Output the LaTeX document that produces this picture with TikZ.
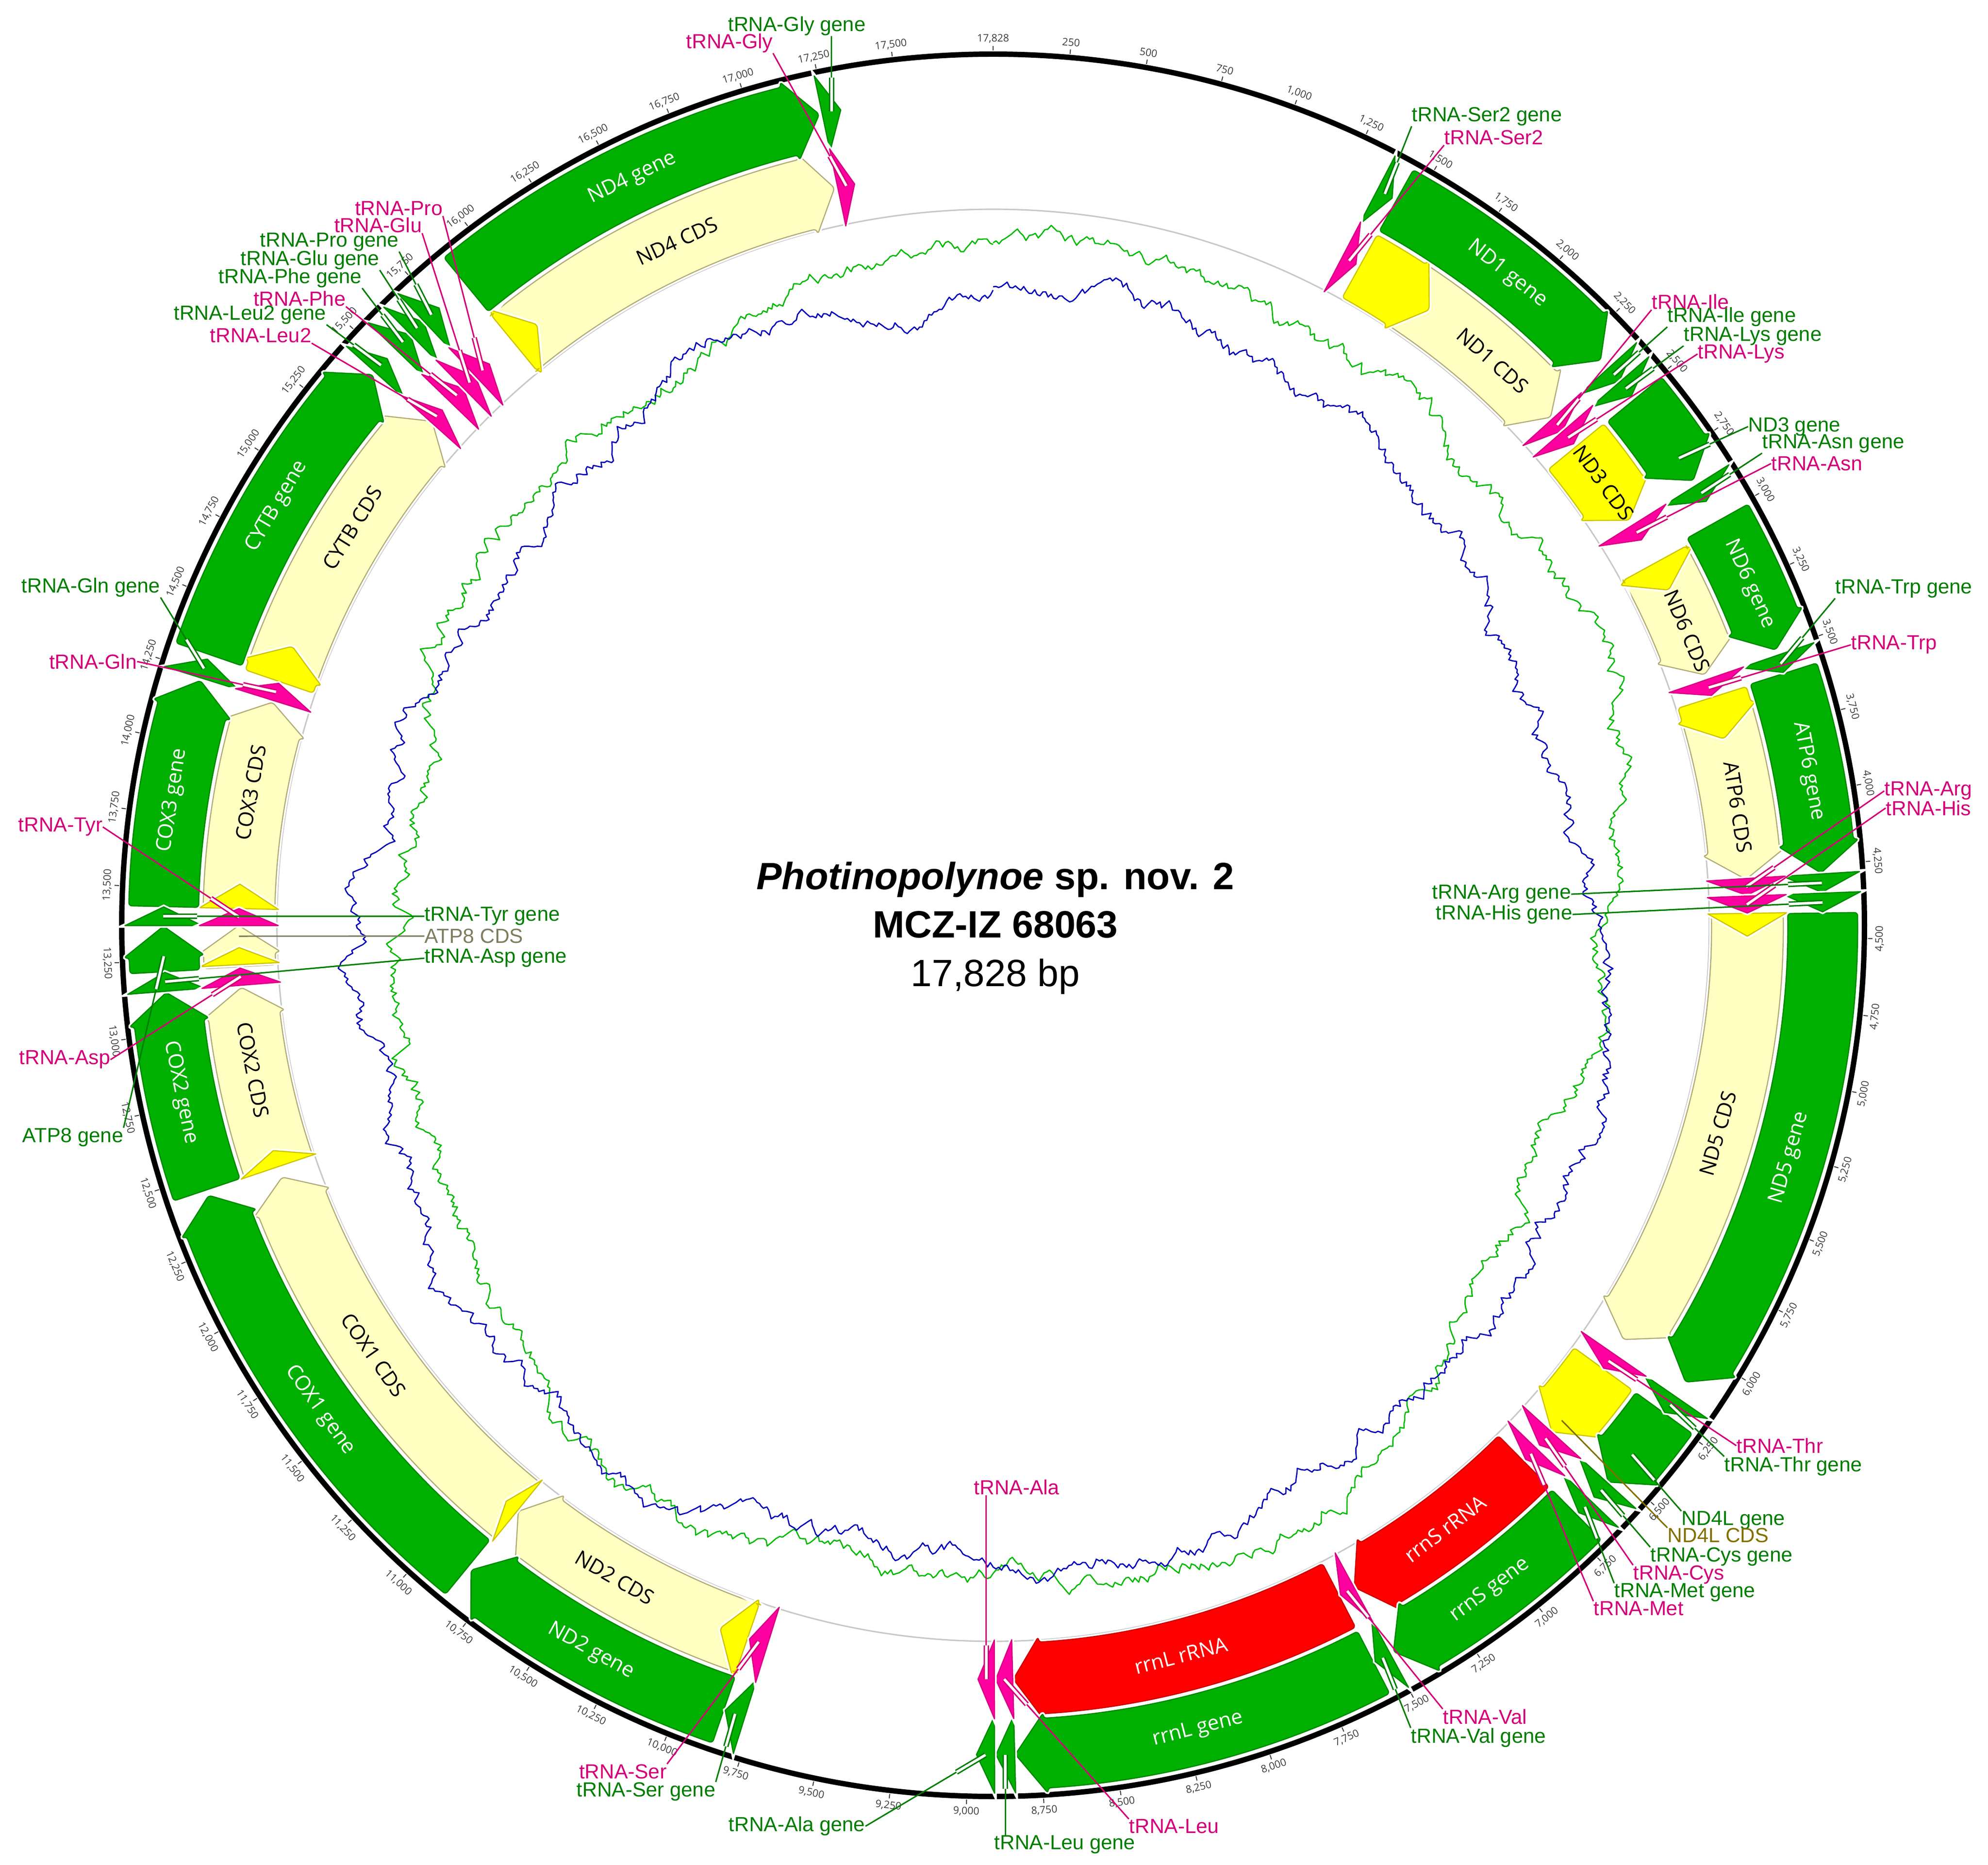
\documentclass[tikz,border=0pt]{standalone}
\usepackage{fontspec}
\setmainfont{Liberation Sans}
\newfontfamily\osans{Open Sans}
\usetikzlibrary{calc}

\definecolor{genegreen}{RGB}{0,176,0}
\definecolor{geneedge}{RGB}{0,135,0}
\definecolor{cdsfill}{RGB}{255,255,194}
\definecolor{cdsedge}{RGB}{178,170,120}
\definecolor{orfyellow}{RGB}{255,255,0}
\definecolor{orfedge}{RGB}{205,195,0}
\definecolor{trnapink}{RGB}{255,0,160}
\definecolor{trnaedge}{RGB}{215,0,130}
\definecolor{rnared}{RGB}{255,0,0}
\definecolor{rnaedge}{RGB}{205,0,0}
\definecolor{labgreen}{RGB}{0,125,0}
\definecolor{labpink}{RGB}{212,0,120}
\definecolor{labolive}{RGB}{130,112,0}
\definecolor{labgrey}{RGB}{128,124,96}
\definecolor{skewgreen}{RGB}{0,185,0}
\definecolor{skewblue}{RGB}{0,0,185}
\definecolor{ticktext}{RGB}{60,60,60}
\definecolor{ringgrey}{RGB}{200,200,200}

\tikzstyle{feat}=[line width=0.7pt, line join=round, preaction={draw=white, line width=2.8pt}]
\tikzstyle{cdsbox}=[feat, fill=cdsfill, draw=cdsedge]
\tikzstyle{orfbox}=[feat, fill=orfyellow, draw=orfedge]
\tikzstyle{genebox}=[feat, fill=genegreen, draw=geneedge]
\tikzstyle{trnabox}=[feat, fill=trnapink, draw=trnaedge]
\tikzstyle{rrnabox}=[feat, fill=rnared, draw=rnaedge]
\tikzstyle{glab}=[text=labgreen, inner sep=0pt, font=\fontsize{12.9}{14}\selectfont]
\tikzstyle{plab}=[glab, text=labpink]
\tikzstyle{olab}=[glab, text=labolive]
\tikzstyle{ylab}=[glab, text=labgrey]
\tikzstyle{gline}=[draw=labgreen, line width=0.9pt]
\tikzstyle{pline}=[draw=labpink, line width=0.9pt]
\tikzstyle{oline}=[draw=labolive, line width=0.9pt]
\tikzstyle{yline}=[draw=labgrey, line width=0.9pt]
\tikzstyle{wname}=[text=white, font=\osans\fontsize{13}{14}\selectfont]
\tikzstyle{kname}=[text=black, font=\osans\fontsize{13}{14}\selectfont]
\tikzstyle{ticklab}=[text=ticktext, inner sep=0pt, font=\osans\fontsize{6.5}{7}\selectfont]
\tikzstyle{skewline}=[line width=0.8pt, line join=round]

% angle of a position, 17828 bp round, clockwise from the top
\newcommand{\bpang}[1]{\fpeval{90-(#1)*360/17828}}
% arrow on the ring: start bp, end bp, inner r, outer r, style
\newcommand{\arrowfeat}[5]{%
  \edef\ftA{\bpang{#1}}%
  \edef\ftB{\bpang{#2}}%
  \edef\ftC{\fpeval{\ftB+2.1}}%
  \pgfmathsetmacro{\ftM}{(#3+#4)/2}%
  \ifdim\ftC pt<\ftA pt
    \pgfmathsetmacro{\ftI}{#3-0.12}%
    \pgfmathsetmacro{\ftO}{#4+0.12}%
    \draw[#5, rounded corners=2pt] (\ftA:#3) arc[start angle=\ftA, end angle=\ftC, radius=#3]
      -- (\ftC:\ftI) -- (\ftB:\ftM) -- (\ftC:\ftO) -- (\ftC:#4)
      arc[start angle=\ftC, end angle=\ftA, radius=#4] -- cycle;
  \else
    \pgfmathsetmacro{\ftI}{#3-0.08}%
    \pgfmathsetmacro{\ftO}{#4+0.08}%
    \draw[#5] (\ftA:\ftI) -- (\ftB:\ftM) -- (\ftA:\ftO) -- cycle;
  \fi}
% name along the ring: node name, bp, r, style, text
\newcommand{\featname}[5]{%
  \edef\nmA{\bpang{#2}}%
  \edef\nmR{\fpeval{(\nmA>0 || \nmA<-180) ? \nmA-90 : \nmA+90}}%
  \node[#4, rotate=\nmR] (#1) at (\nmA:#3) {#5};}
\newcommand{\fpt}[3]{\edef\fpA{\bpang{#2}}\coordinate (#1) at (\fpA:#3);}
% leader with the white box at the feature end
\newcommand{\leadbox}[3]{%
  \draw[#1] (#3) -- (#2);
  \draw[#1, double=white, double distance=1.6pt] (#2) -- ($(#2)!0.75cm!(#3)$);}
% tick text with thousands comma
\newcommand{\bplabel}[1]{%
  \edef\tth{\the\numexpr(#1-500)/1000\relax}%
  \edef\trm{\the\numexpr#1-\tth*1000\relax}%
  \ifnum\tth>0 \tth,\ifnum\trm=0 000\else\trm\fi\else\trm\fi}

\begin{document}
\begin{tikzpicture}
\useasboundingbox (-22.02,-20.83) rectangle (22.06,20.52);

% rings and scale
\draw[ringgrey, line width=0.9pt] (0,0) circle (15.88);
\draw[black, line width=3.4pt] (0,0) circle (19.32);
\foreach \t in {1,...,70}{
  \edef\tk{\the\numexpr\t*250\relax}
  \edef\tA{\bpang{\tk}}
  \edef\tR{\fpeval{(\tA>0 || \tA<-180) ? \tA-90 : \tA+90}}
  \draw[ticktext, line width=0.6pt] (\tA:19.40) -- (\tA:19.50);
  \node[ticklab, rotate=\tR] (tk\t) at (\tA:19.66) {\bplabel{\tk}};
}
\draw[ticktext, line width=0.6pt] (90:19.40) -- (90:19.50);
\node[ticklab] (tk0) at (90:19.66) {17,828};

% skew plots: two random walks, closed round the ring
\begin{scope}
\clip (0,0) circle (15.8);
\pgfmathsetseed{4242}
\xdef\wG{0}\xdef\wB{0}
\foreach \i in {0,...,1440}{
  \pgfmathsetmacro{\nG}{0.985*\wG+0.12*rand}\xdef\wG{\nG}
  \pgfmathsetmacro{\nB}{0.985*\wB+0.12*rand}\xdef\wB{\nB}
  \expandafter\xdef\csname wg\i\endcsname{\wG}
  \expandafter\xdef\csname wb\i\endcsname{\wB}
}
\xdef\gpath{}\xdef\bpath{}
\foreach \i in {0,...,1440}{
  \pgfmathsetmacro{\sA}{90-\i/4}
  \pgfmathsetmacro{\sG}{14.75+0.25*cos(2*\i/4)+0.2*sin(5*\i/4+30)+\csname wg\i\endcsname-\i/1440*\wG}
  \pgfmathsetmacro{\sB}{13.55+0.3*cos(2*\i/4)+0.25*sin(3*\i/4+70)+\csname wb\i\endcsname-\i/1440*\wB}
  \xdef\gpath{\gpath (\sA:\sG)}
  \xdef\bpath{\bpath (\sA:\sB)}
}
\edef\skewdraw{\noexpand\draw[skewline, draw=skewgreen] plot coordinates {\gpath};
  \noexpand\draw[skewline, draw=skewblue] plot coordinates {\bpath};}
\skewdraw
\end{scope}

% CDS track
\foreach \s/\e in {1440/2360,3036/3496,3586/4284,4412/6107,9855/10846,10850/12405,12447/13137,13215/13370,13434/14223,14305/15448,15875/17227}
  {\arrowfeat{\s}{\e}{15.93}{17.52}{cdsbox}}
\foreach \s/\e in {1440/1749,2506/2848,3036/3150,3586/3748,4412/4498,6241/6547,9855/9965,10850/10905,12447/12510,13223/13287,13434/13526,14305/14446,15875/15986}
  {\arrowfeat{\s}{\e}{15.93}{17.52}{orfbox}}
\foreach \s/\e in {6700/7497,7562/8838}
  {\arrowfeat{\s}{\e}{15.93}{17.52}{rrnabox}}
% gene track
\foreach \s/\e in {1440/2331,2508/2851,3013/3497,3582/4278,4415/6112,6241/6545,6700/7485,7562/8838,9852/10845,10860/12430,12450/13141,13212/13368,13435/14221,14315/15431,15875/17229}
  {\arrowfeat{\s}{\e}{17.62}{19.17}{genebox}}
% tRNAs
\foreach \s/\e in {1366/1424,2369/2427,2430/2492,2870/2935,3516/3578,4281/4344,4347/4411,6172/6238,6548/6615,6632/6690,7498/7556,8840/8904,8909/8971,9776/9847,13145/13210,13370/13434,14230/14298,15443/15505,15548/15619,15620/15682,15684/15753,17239/17304}
  {\arrowfeat{\s}{\e}{17.62}{19.17}{genebox}
   \arrowfeat{\s}{\e}{15.93}{17.52}{trnabox}}

% names on the features
\featname{nND1G}{1895}{18.4}{wname}{ND1 gene}
\featname{nND6G}{3254}{18.4}{wname}{ND6 gene}
\featname{nATP6G}{3927}{18.4}{wname}{ATP6 gene}
\featname{nND5G}{5263}{18.4}{wname}{ND5 gene}
\featname{nrrnSG}{7093}{18.4}{wname}{rrnS gene}
\featname{nrrnLG}{8206}{18.4}{wname}{rrnL gene}
\featname{nND2G}{10350}{18.4}{wname}{ND2 gene}
\featname{nCOX1G}{11600}{18.4}{wname}{COX1 gene}
\featname{nCOX2G}{12795}{18.4}{wname}{COX2 gene}
\featname{nCOX3G}{13800}{18.4}{wname}{COX3 gene}
\featname{nCYTBG}{14873}{18.4}{wname}{CYTB gene}
\featname{nND4G}{16552}{18.4}{wname}{ND4 gene}
\featname{nrrnSR}{7090}{16.72}{wname}{rrnS rRNA}
\featname{nrrnLR}{8200}{16.72}{wname}{rrnL rRNA}
\featname{nND1C}{2055}{16.72}{kname}{ND1 CDS}
\featname{nND3C}{2677}{16.72}{kname}{ND3 CDS}
\featname{nND6C}{3318}{16.72}{kname}{ND6 CDS}
\featname{nATP6C}{4010}{16.72}{kname}{ATP6 CDS}
\featname{nND5C}{5250}{16.72}{kname}{ND5 CDS}
\featname{nND2C}{10405}{16.72}{kname}{ND2 CDS}
\featname{nCOX1C}{11650}{16.72}{kname}{COX1 CDS}
\featname{nCOX2C}{12823}{16.72}{kname}{COX2 CDS}
\featname{nCOX3C}{13874}{16.72}{kname}{COX3 CDS}
\featname{nCYTBC}{14947}{16.72}{kname}{CYTB CDS}
\featname{nND4C}{16600}{16.72}{kname}{ND4 CDS}

% feature points for the leaders
\fpt{fGlyG}{17272}{18.4} \fpt{fGly}{17272}{16.72}
\fpt{fSer2G}{1395}{18.4} \fpt{fSer2}{1395}{16.72}
\fpt{fIleG}{2398}{18.4} \fpt{fIle}{2398}{16.72}
\fpt{fLysG}{2461}{18.4} \fpt{fLys}{2461}{16.72}
\fpt{fND3G}{2760}{18.4}
\fpt{fAsnG}{2902}{18.4} \fpt{fAsn}{2902}{16.72}
\fpt{fTrpG}{3547}{18.4} \fpt{fTrp}{3547}{16.72}
\fpt{fArgG}{4312}{18.4} \fpt{fArg}{4312}{16.72}
\fpt{fHisG}{4379}{18.4} \fpt{fHis}{4379}{16.72}
\fpt{fThrG}{6205}{18.4} \fpt{fThr}{6205}{16.72}
\fpt{fND4LG}{6420}{18.4} \fpt{fND4LC}{6490}{16.72}
\fpt{fCysG}{6581}{18.4} \fpt{fCys}{6581}{16.72}
\fpt{fMetG}{6661}{18.4} \fpt{fMet}{6661}{16.72}
\fpt{fValG}{7527}{18.4} \fpt{fVal}{7527}{16.72}
\fpt{fLeuG}{8872}{18.4} \fpt{fLeu}{8872}{16.72}
\fpt{fAlaG}{8940}{18.4} \fpt{fAla}{8940}{16.72}
\fpt{fSerG}{9811}{18.4} \fpt{fSer}{9811}{16.72}
\fpt{fAspG}{13178}{18.4} \fpt{fAsp}{13178}{16.72}
\fpt{fATP8G}{13265}{18.4} \fpt{fATP8C}{13330}{16.72}
\fpt{fTyrG}{13402}{18.4} \fpt{fTyr}{13402}{16.72}
\fpt{fGlnG}{14264}{18.4} \fpt{fGln}{14264}{16.72}
\fpt{fLeu2G}{15474}{18.4} \fpt{fLeu2}{15474}{16.72}
\fpt{fPheG}{15583}{18.4} \fpt{fPhe}{15583}{16.72}
\fpt{fGluG}{15651}{18.4} \fpt{fGlu}{15651}{16.72}
\fpt{fProG}{15718}{18.4} \fpt{fPro}{15718}{16.72}

% labels, top
\node[glab, anchor=south east] (lGlyG) at (-2.82,19.72) {tRNA-Gly gene};
\node[plab, anchor=south east] (lGly) at (-4.88,19.34) {tRNA-Gly};
\coordinate (eGlyG) at (fGlyG |- lGlyG.south);
\leadbox{gline}{fGlyG}{eGlyG}
\leadbox{pline}{fGly}{lGly.south east}
\node[glab, anchor=south west] (lSer2G) at (9.28,17.72) {tRNA-Ser2 gene};
\node[plab, anchor=south west] (lSer2) at (10.00,17.30) {tRNA-Ser2};
\leadbox{gline}{fSer2G}{lSer2G.south west}
\leadbox{pline}{fSer2}{lSer2.south west}

% labels, right
\node[plab, anchor=south west] (lIle) at (14.60,13.65) {tRNA-Ile};
\node[glab, anchor=south west] (lIleG) at (14.95,13.27) {tRNA-Ile gene};
\node[glab, anchor=south west] (lLysG) at (15.31,12.85) {tRNA-Lys gene};
\node[plab, anchor=west] (lLys) at (15.62,12.67) {tRNA-Lys};
\leadbox{pline}{fIle}{lIle.south west}
\leadbox{gline}{fIleG}{lIleG.south west}
\leadbox{gline}{fLysG}{lLysG.south west}
\leadbox{pline}{fLys}{lLys.west}
\node[glab, anchor=west] (lND3G) at (16.74,11.06) {ND3 gene};
\node[glab, anchor=south west] (lAsnG) at (17.05,10.47) {tRNA-Asn gene};
\node[plab, anchor=west] (lAsn) at (17.25,10.24) {tRNA-Asn};
\leadbox{gline}{fND3G}{lND3G.west}
\leadbox{gline}{fAsnG}{lAsnG.south west}
\leadbox{pline}{fAsn}{lAsn.west}
\node[glab, anchor=south west] (lTrpG) at (18.67,7.25) {tRNA-Trp gene};
\node[plab, anchor=west] (lTrp) at (19.02,6.22) {tRNA-Trp};
\leadbox{gline}{fTrpG}{lTrpG.south west}
\leadbox{pline}{fTrp}{lTrp.west}
\node[plab, anchor=west] (lArg) at (19.76,2.98) {tRNA-Arg};
\node[plab, anchor=west] (lHis) at (19.79,2.60) {tRNA-His};
\node[glab, anchor=east] (lArgG) at (12.82,0.69) {tRNA-Arg gene};
\node[glab, anchor=east] (lHisG) at (12.85,0.24) {tRNA-His gene};
\leadbox{pline}{fArg}{lArg.west}
\leadbox{pline}{fHis}{lHis.west}
\leadbox{gline}{fArgG}{lArgG.east}
\leadbox{gline}{fHisG}{lHisG.east}

% labels, lower right
\node[plab, anchor=west] (lThr) at (16.48,-11.54) {tRNA-Thr};
\node[glab, anchor=north west] (lThrG) at (16.21,-11.78) {tRNA-Thr gene};
\node[glab, anchor=north west] (lND4LG) at (15.26,-12.99) {ND4L gene};
\node[olab, anchor=north west] (lND4LC) at (14.95,-13.36) {ND4L CDS};
\node[glab, anchor=north west] (lCysG) at (14.57,-13.79) {tRNA-Cys gene};
\node[plab, anchor=north west] (lCys) at (14.19,-14.19) {tRNA-Cys};
\node[glab, anchor=north west] (lMetG) at (13.77,-14.59) {tRNA-Met gene};
\node[plab, anchor=north west] (lMet) at (13.31,-14.99) {tRNA-Met};
\leadbox{pline}{fThr}{lThr.west}
\leadbox{gline}{fThrG}{lThrG.north west}
\leadbox{gline}{fND4LG}{lND4LG.north west}
\draw[oline] (lND4LC.north west) -- (fND4LC);
\leadbox{gline}{fCysG}{lCysG.north west}
\leadbox{pline}{fCys}{lCys.north west}
\leadbox{gline}{fMetG}{lMetG.north west}
\leadbox{pline}{fMet}{lMet.north west}
\node[plab, anchor=north west] (lVal) at (9.97,-17.38) {tRNA-Val};
\node[glab, anchor=north west] (lValG) at (9.26,-17.80) {tRNA-Val gene};
\leadbox{pline}{fVal}{lVal.north west}
\leadbox{gline}{fValG}{lValG.north west}

% labels, bottom
\node[plab, anchor=north west] (lLeu) at (3.01,-19.82) {tRNA-Leu};
\node[glab, anchor=north west] (lLeuG) at (0.02,-20.18) {tRNA-Leu gene};
\coordinate (eLeuG) at (fLeuG |- lLeuG.north);
\leadbox{pline}{fLeu}{lLeu.north west}
\leadbox{gline}{fLeuG}{eLeuG}
\node[glab, anchor=east] (lAlaG) at (-2.83,-19.98) {tRNA-Ala gene};
\node[plab, anchor=south west] (lAla) at (-0.43,-12.64) {tRNA-Ala};
\coordinate (eAla) at (fAla |- lAla.south);
\leadbox{gline}{fAlaG}{lAlaG.east}
\leadbox{pline}{fAla}{eAla}
\node[plab, anchor=north east] (lSer) at (-7.23,-18.60) {tRNA-Ser};
\node[glab, anchor=north east] (lSerG) at (-6.15,-19.00) {tRNA-Ser gene};
\leadbox{pline}{fSer}{lSer.north east}
\leadbox{gline}{fSerG}{lSerG.north east}

% labels, left
\node[plab, anchor=east] (lTyr) at (-19.74,2.18) {tRNA-Tyr};
\node[glab, anchor=west] (lTyrG) at (-12.61,0.20) {tRNA-Tyr gene};
\node[ylab, anchor=west] (lATP8C) at (-12.61,-0.24) {ATP8 CDS};
\node[glab, anchor=west] (lAspG) at (-12.61,-0.73) {tRNA-Asp gene};
\node[plab, anchor=east] (lAsp) at (-19.57,-2.98) {tRNA-Asp};
\node[glab, anchor=north east] (lATP8G) at (-19.28,-4.49) {ATP8 gene};
\leadbox{pline}{fTyr}{lTyr.east}
\leadbox{gline}{fTyrG}{lTyrG.west}
\draw[yline] (lATP8C.west) -- (fATP8C);
\leadbox{gline}{fAspG}{lAspG.west}
\leadbox{pline}{fAsp}{lAsp.east}
\leadbox{gline}{fATP8G}{lATP8G.north east}
\node[glab, anchor=south east] (lGlnG) at (-18.46,7.27) {tRNA-Gln gene};
\node[plab, anchor=east] (lGln) at (-18.98,5.85) {tRNA-Gln};
\leadbox{gline}{fGlnG}{lGlnG.south east}
\leadbox{pline}{fGln}{lGln.east}

% labels, upper left
\node[plab, anchor=south east] (lPro) at (-12.20,15.73) {tRNA-Pro};
\node[plab, anchor=south east] (lGlu) at (-12.66,15.35) {tRNA-Glu};
\node[glab, anchor=south east] (lProG) at (-13.17,14.94) {tRNA-Pro gene};
\node[glab, anchor=south east] (lGluG) at (-13.60,14.53) {tRNA-Glu gene};
\node[glab, anchor=south east] (lPheG) at (-13.99,14.13) {tRNA-Phe gene};
\node[plab, anchor=south east] (lPhe) at (-14.35,13.72) {tRNA-Phe};
\node[glab, anchor=south east] (lLeu2G) at (-14.78,13.32) {tRNA-Leu2 gene};
\node[plab, anchor=south east] (lLeu2) at (-15.11,12.91) {tRNA-Leu2};
\leadbox{pline}{fPro}{lPro.south east}
\leadbox{pline}{fGlu}{lGlu.south east}
\leadbox{gline}{fProG}{lProG.south east}
\leadbox{gline}{fGluG}{lGluG.south east}
\leadbox{gline}{fPheG}{lPheG.south east}
\leadbox{pline}{fPhe}{lPhe.south east}
\leadbox{gline}{fLeu2G}{lLeu2G.south east}
\leadbox{pline}{fLeu2}{lLeu2.south east}

% title
\node[align=center, font=\fontsize{24}{30.5}\selectfont] (ttl) at (0.05,-0.06)
  {\textbf{\textit{Photinopolynoe} sp. nov. 2}\\\textbf{MCZ-IZ 68063}\\17,828 bp};
\end{tikzpicture}
\end{document}
